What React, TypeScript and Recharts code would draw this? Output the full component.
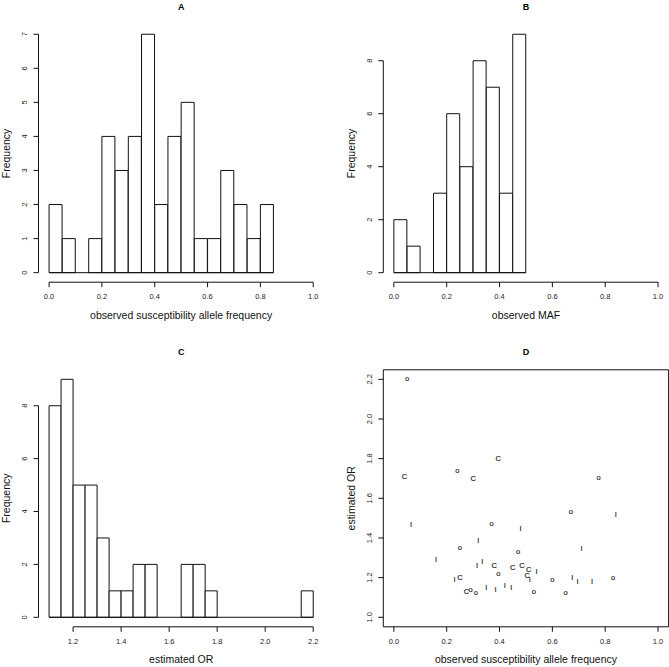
import React from 'react';
import { ComposedChart, Bar, Scatter, XAxis, YAxis, ReferenceLine, ReferenceArea } from 'recharts';

// ---------------- data ----------------
// Panel A: histogram of observed susceptibility allele frequency
const breaksA = [0, 0.05, 0.1, 0.15, 0.2, 0.25, 0.3, 0.35, 0.4, 0.45, 0.5, 0.55, 0.6, 0.65, 0.7, 0.75, 0.8, 0.85];
const countsA = [2, 1, 0, 1, 4, 3, 4, 7, 2, 4, 5, 1, 1, 3, 2, 1, 2];
// Panel B: histogram of observed MAF
const breaksB = [0, 0.05, 0.1, 0.15, 0.2, 0.25, 0.3, 0.35, 0.4, 0.45, 0.5];
const countsB = [2, 1, 0, 3, 6, 4, 8, 7, 3, 9];
// Panel C: histogram of estimated OR
const breaksC = [1.1, 1.15, 1.2, 1.25, 1.3, 1.35, 1.4, 1.45, 1.5, 1.55, 1.6, 1.65, 1.7, 1.75, 1.8, 1.85, 1.9, 1.95, 2.0, 2.05, 2.1, 2.15, 2.2];
const countsC = [8, 9, 5, 5, 3, 1, 1, 2, 2, 0, 0, 2, 2, 1, 0, 0, 0, 0, 0, 0, 0, 1];
// Panel D: scatter, plotted with characters "o", "C", "I"
const oX = [0.05, 0.24, 0.775, 0.37, 0.67, 0.25, 0.47, 0.395, 0.6, 0.83, 0.29, 0.31, 0.53, 0.65];
const oY = [2.2, 1.74, 1.7, 1.47, 1.53, 1.35, 1.33, 1.22, 1.19, 1.2, 1.14, 1.12, 1.13, 1.12];
const cX = [0.04, 0.395, 0.3, 0.38, 0.45, 0.485, 0.51, 0.505, 0.25, 0.275];
const cY = [1.71, 1.8, 1.7, 1.26, 1.25, 1.26, 1.24, 1.21, 1.2, 1.13];
const iX = [0.065, 0.48, 0.84, 0.32, 0.71, 0.16, 0.335, 0.315, 0.54, 0.515, 0.23, 0.675, 0.695, 0.75, 0.35, 0.385, 0.42, 0.445];
const iY = [1.47, 1.45, 1.52, 1.39, 1.35, 1.29, 1.28, 1.26, 1.23, 1.19, 1.19, 1.2, 1.18, 1.18, 1.15, 1.14, 1.16, 1.15];

// axis ranges and ticks
const xlimA = [0, 1];
const xlimB = [0, 1];
const xlimC = [1.1, 2.2];
const xlimD = [0, 1];
const ylimD = [1.0, 2.2];
const xTicksUnit = [0, 0.2, 0.4, 0.6, 0.8, 1.0];
const yTicksA = [0, 1, 2, 3, 4, 5, 6, 7];
const yTicksB = [0, 2, 4, 6, 8];
const xTicksC = [1.2, 1.4, 1.6, 1.8, 2.0, 2.2];
const yTicksC = [0, 2, 4, 6, 8];
const yTicksD = [1.0, 1.2, 1.4, 1.6, 1.8, 2.0, 2.2];

const titles = ['A', 'B', 'C', 'D'];
const xLabels = ['observed susceptibility allele frequency', 'observed MAF', 'estimated OR', 'observed susceptibility allele frequency'];
const yLabels = ['Frequency', 'Frequency', 'Frequency', 'estimated OR'];

// ---------------- layout ----------------
const FONT = '"Liberation Sans", Arial, Helvetica, sans-serif';
const INK = '#111';
const TICK_FS = 7.5;
const LABEL_FS = 10.5;
const TITLE_FS = 9;
const XH = 20;

const COLS = [
  { left: 0, width: 335, plotLeft: 38.5, plotRight: 323.8 },
  { left: 334, width: 335, plotLeft: 383.3, plotRight: 668.6 },
];
const ROWS = [
  { top: 0, height: 334, plotTop: 24.7, plotBottom: 282.2 },
  { top: 334, height: 333, plotTop: 369.8, plotBottom: 626.8 },
];

const extendRange = (r: number[]) => {
  const d = (r[1] - r[0]) * 0.04;
  return [r[0] - d, r[1] + d];
};

const fmt1 = (v: number) => v.toFixed(1);
const fmt0 = (v: number) => String(v);

const XTick = (props: any) => {
  const { x, y, payload, fmt } = props;
  return (
    <text x={x} y={y + 12} textAnchor="middle" fontSize={TICK_FS} fill="#222" fontFamily={FONT}>
      {fmt(payload.value)}
    </text>
  );
};

const YTick = (props: any) => {
  const { x, y, payload, fmt } = props;
  const bx = x - 6.5;
  return (
    <text x={bx} y={y} transform={`rotate(-90 ${bx} ${y})`} textAnchor="middle" fontSize={TICK_FS} fill="#222" fontFamily={FONT}>
      {fmt(payload.value)}
    </text>
  );
};

function geometry(col: any, row: any) {
  return {
    left: col.left,
    top: row.top,
    width: col.width,
    height: row.height,
    margin: {
      top: row.plotTop - row.top,
      right: col.left + col.width - col.plotRight,
      bottom: row.top + row.height - row.plotBottom - XH,
      left: 0,
    },
    yWidth: col.plotLeft - col.left,
  };
}

function Histogram({ col, row, breaks, counts, xlim, xTicks, yTicks }: any) {
  const g = geometry(col, row);
  const ylim = [0, Math.max(...counts)];
  const xDom = extendRange(xlim);
  const yDom = extendRange(ylim);
  const data = counts.map((c: number, i: number) => ({ mid: (breaks[i] + breaks[i + 1]) / 2, count: c }));
  return (
    <div style={{ position: 'absolute', left: g.left, top: g.top, width: g.width, height: g.height }}>
      <ComposedChart width={g.width} height={g.height} data={data} margin={g.margin} barCategoryGap={0} barGap={0}>
        <XAxis
          type="number"
          dataKey="mid"
          domain={xDom}
          ticks={xTicks}
          allowDataOverflow
          interval={0}
          axisLine={false}
          tickLine={{ stroke: INK }}
          tickSize={5}
          tickMargin={0}
          height={XH}
          tick={<XTick fmt={fmt1} />}
        />
        <YAxis
          type="number"
          dataKey="count"
          domain={yDom}
          ticks={yTicks}
          allowDataOverflow
          interval={0}
          width={g.yWidth}
          axisLine={false}
          tickLine={{ stroke: INK }}
          tickSize={5}
          tickMargin={0}
          tick={<YTick fmt={fmt0} />}
        />
        <Bar dataKey="count" fill="#fff" stroke={INK} strokeWidth={1} isAnimationActive={false} />
        <ReferenceLine
          segment={[{ x: breaks[0], y: 0 }, { x: breaks[breaks.length - 1], y: 0 }]}
          stroke={INK}
          ifOverflow="visible"
        />
        <ReferenceLine
          segment={[{ x: xTicks[0], y: yDom[0] }, { x: xTicks[xTicks.length - 1], y: yDom[0] }]}
          stroke={INK}
          ifOverflow="visible"
        />
        <ReferenceLine
          segment={[{ x: xDom[0], y: yTicks[0] }, { x: xDom[0], y: yTicks[yTicks.length - 1] }]}
          stroke={INK}
          ifOverflow="visible"
        />
      </ComposedChart>
    </div>
  );
}

// plotting characters, drawn as text; a hairline stroke makes them render as grey outlines
const GLYPH_INK = '#1a1a1a';
const glyph = (ch: string, dy: number) => (p: any) => (
  <text
    x={p.cx}
    y={p.cy + dy}
    textAnchor="middle"
    fontSize={7.5}
    fill={GLYPH_INK}
    stroke={GLYPH_INK}
    strokeWidth={0.15}
    fontFamily={FONT}
  >
    {ch}
  </text>
);

function ScatterPanel({ col, row }: any) {
  const g = geometry(col, row);
  const xDom = extendRange(xlimD);
  const yDom = extendRange(ylimD);
  const oData = oX.map((x, i) => ({ x, y: oY[i] }));
  const cData = cX.map((x, i) => ({ x, y: cY[i] }));
  const iData = iX.map((x, i) => ({ x, y: iY[i] }));
  return (
    <div style={{ position: 'absolute', left: g.left, top: g.top, width: g.width, height: g.height }}>
      <ComposedChart width={g.width} height={g.height} margin={g.margin}>
        <XAxis
          type="number"
          dataKey="x"
          domain={xDom}
          ticks={xTicksUnit}
          allowDataOverflow
          interval={0}
          axisLine={false}
          tickLine={{ stroke: INK }}
          tickSize={5}
          tickMargin={0}
          height={XH}
          tick={<XTick fmt={fmt1} />}
        />
        <YAxis
          type="number"
          dataKey="y"
          domain={yDom}
          ticks={yTicksD}
          allowDataOverflow
          interval={0}
          width={g.yWidth}
          axisLine={false}
          tickLine={{ stroke: INK }}
          tickSize={5}
          tickMargin={0}
          tick={<YTick fmt={fmt1} />}
        />
        <ReferenceArea x1={xDom[0]} x2={xDom[1]} y1={yDom[0]} y2={yDom[1]} fill="none" fillOpacity={0} stroke={INK} strokeOpacity={1} ifOverflow="visible" />
        <Scatter data={oData} dataKey="y" shape={glyph('o', 2)} isAnimationActive={false} />
        <Scatter data={cData} dataKey="y" shape={glyph('C', 2.7)} isAnimationActive={false} />
        <Scatter data={iData} dataKey="y" shape={glyph('I', 2.7)} isAnimationActive={false} />
      </ComposedChart>
    </div>
  );
}

function Overlay() {
  const items: any[] = [];
  [0, 1].forEach((r) => {
    [0, 1].forEach((c) => {
      const k = r * 2 + c;
      const col = COLS[c];
      const row = ROWS[r];
      const cx = (col.plotLeft + col.plotRight) / 2;
      const cy = (row.plotTop + row.plotBottom) / 2;
      const yl = col.plotLeft - 28.5;
      items.push(
        <text key={'t' + k} x={cx} y={row.plotTop - 15} textAnchor="middle" fontWeight="bold" fontSize={TITLE_FS} fill="#000" fontFamily={FONT}>
          {titles[k]}
        </text>,
        <text key={'x' + k} x={cx} y={row.plotBottom + 36.3} textAnchor="middle" fontSize={LABEL_FS} fill="#111" fontFamily={FONT}>
          {xLabels[k]}
        </text>,
        <text key={'y' + k} x={yl} y={cy} transform={`rotate(-90 ${yl} ${cy})`} textAnchor="middle" fontSize={LABEL_FS} fill="#111" fontFamily={FONT}>
          {yLabels[k]}
        </text>
      );
    });
  });
  return (
    <svg width={669} height={667} style={{ position: 'absolute', left: 0, top: 0, pointerEvents: 'none' }}>
      {items}
    </svg>
  );
}

export default function App() {
  return (
    <div style={{ position: 'absolute', left: 0, top: 0, width: 669, height: 667, background: '#fff', fontFamily: FONT }}>
      <Histogram col={COLS[0]} row={ROWS[0]} breaks={breaksA} counts={countsA} xlim={xlimA} xTicks={xTicksUnit} yTicks={yTicksA} />
      <Histogram col={COLS[1]} row={ROWS[0]} breaks={breaksB} counts={countsB} xlim={xlimB} xTicks={xTicksUnit} yTicks={yTicksB} />
      <Histogram col={COLS[0]} row={ROWS[1]} breaks={breaksC} counts={countsC} xlim={xlimC} xTicks={xTicksC} yTicks={yTicksC} />
      <ScatterPanel col={COLS[1]} row={ROWS[1]} />
      <Overlay />
    </div>
  );
}
